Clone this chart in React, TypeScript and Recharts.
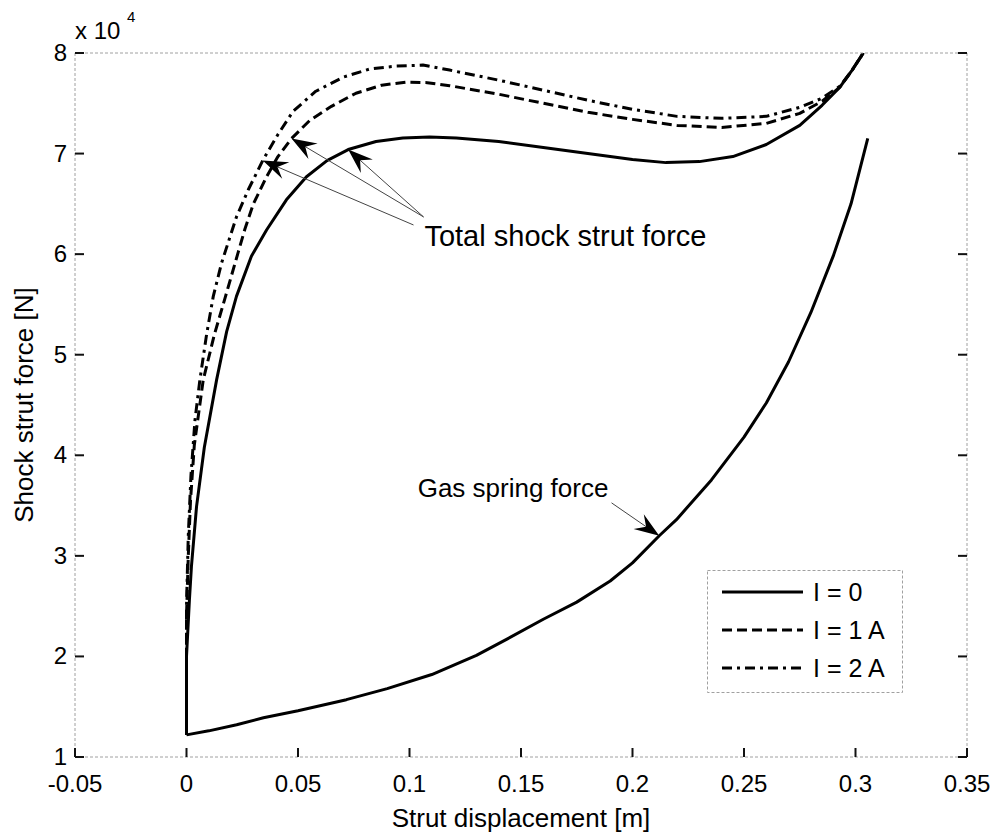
import React from 'react';
import { LineChart, Line, XAxis, YAxis, ReferenceLine, ReferenceDot, Legend } from 'recharts';

// Total shock strut force, I = 0 (displacement [m], force [N])
const dispI0 = [0, 0, 0.0013, 0.0022, 0.0045, 0.008, 0.0135, 0.018, 0.0224, 0.0291, 0.0359, 0.0448, 0.0538, 0.063, 0.0725, 0.085, 0.097, 0.109, 0.121, 0.14, 0.16, 0.18, 0.2, 0.215, 0.23, 0.245, 0.26, 0.275, 0.285, 0.293, 0.2985, 0.3035];
const forceI0 = [12200, 20000, 25600, 28900, 34900, 40800, 47500, 52300, 55800, 59800, 62400, 65400, 67700, 69300, 70400, 71200, 71550, 71650, 71550, 71200, 70600, 70000, 69400, 69100, 69200, 69700, 70900, 72800, 74800, 76600, 78300, 80000];

// Total shock strut force, I = 1 A
const dispI1 = [0, 0, 0.0008, 0.0018, 0.0035, 0.0075, 0.0125, 0.0175, 0.0232, 0.0262, 0.03, 0.0359, 0.041, 0.0471, 0.0553, 0.065, 0.076, 0.0875, 0.0987, 0.108, 0.118, 0.14, 0.16, 0.18, 0.2, 0.22, 0.24, 0.26, 0.275, 0.285, 0.293, 0.2985, 0.3035];
const forceI1 = [12200, 24000, 30000, 35500, 41000, 47500, 52000, 55800, 60200, 62500, 65000, 67700, 69700, 71500, 73300, 74700, 76000, 76800, 77100, 77050, 76750, 75900, 75000, 74100, 73400, 72800, 72600, 73000, 74000, 75200, 76600, 78300, 80000];

// Total shock strut force, I = 2 A
const dispI2 = [0, 0, 0.0008, 0.002, 0.0038, 0.006, 0.009, 0.012, 0.0157, 0.0224, 0.0277, 0.0344, 0.041, 0.0478, 0.058, 0.0703, 0.082, 0.094, 0.106, 0.118, 0.14, 0.16, 0.18, 0.2, 0.22, 0.24, 0.26, 0.275, 0.285, 0.293, 0.2985, 0.3035];
const forceI2 = [12200, 25000, 32000, 38000, 43500, 47500, 52000, 55800, 59100, 63700, 66400, 69400, 71900, 74200, 76200, 77600, 78400, 78700, 78800, 78300, 77300, 76300, 75300, 74400, 73700, 73500, 73700, 74600, 75500, 76700, 78300, 80000];

// Gas spring force
const dispGas = [0, 0.01, 0.0225, 0.0345, 0.05, 0.0717, 0.09, 0.11, 0.13, 0.1435, 0.16, 0.175, 0.19, 0.2, 0.212, 0.2197, 0.2354, 0.25, 0.26, 0.27, 0.28, 0.29, 0.298, 0.3055];
const forceGas = [12200, 12600, 13200, 13900, 14600, 15700, 16800, 18200, 20100, 21700, 23700, 25400, 27500, 29300, 32000, 33600, 37550, 41800, 45200, 49300, 54200, 59800, 65000, 71500];

const xTicks = [-0.05, 0, 0.05, 0.1, 0.15, 0.2, 0.25, 0.3, 0.35];
const yTicks = [10000, 20000, 30000, 40000, 50000, 60000, 70000, 80000];

// annotation arrows: tail -> tip, in data units
const arrowTails = [[0.1018, 62900], [0.1063, 63700], [0.1063, 63700], [0.1906, 35270]];
const arrowTips = [[0.0342, 69300], [0.0471, 71500], [0.0725, 70400], [0.212, 32000]];
const noteTexts = ['Total shock strut force', 'Gas spring force'];
const notePos = [[0.1067, 60800], [0.1892, 35860]];

const toPoints = (xs: number[], ys: number[]) => xs.map((x, i) => ({ disp: x, force: ys[i] }));

const FONT = '"Liberation Sans", Arial, Helvetica, sans-serif';
const TICK_LEN = 9;
const BOX_STROKE = '#a0a0a0';
const DASH: Record<string, string | undefined> = {
  'I = 0': undefined,
  'I = 1 A': '10 5',
  'I = 2 A': '10 5 3 5',
};
const NOTE_SIZE = [29, 26];

const fmtX = (v: number) => String(Number(v.toFixed(2)));
const fmtY = (v: number) => String(v / 10000);

const BottomTick = (p: any) => (
  <g>
    <line x1={p.x} y1={p.y} x2={p.x} y2={p.y - TICK_LEN} stroke="#111" strokeWidth={2} />
    <text x={p.x} y={p.y + 35} textAnchor="middle" fontSize={24} fontFamily={FONT} fill="#000">
      {fmtX(p.payload.value)}
    </text>
  </g>
);

const TopTick = (p: any) => (
  <line x1={p.x} y1={p.y} x2={p.x} y2={p.y + TICK_LEN} stroke="#111" strokeWidth={2} />
);

const LeftTick = (p: any) => (
  <g>
    <line x1={p.x} y1={p.y} x2={p.x + TICK_LEN} y2={p.y} stroke="#111" strokeWidth={2} />
    <text x={p.x - 8} y={p.y + 8} textAnchor="end" fontSize={24} fontFamily={FONT} fill="#000">
      {fmtY(p.payload.value)}
    </text>
  </g>
);

const RightTick = (p: any) => (
  <line x1={p.x} y1={p.y} x2={p.x - TICK_LEN} y2={p.y} stroke="#111" strokeWidth={2} />
);

// filled arrow head with swept-back barbs, drawn at the segment's second point
const ArrowShape = (p: any) => {
  const { x1, y1, x2, y2 } = p;
  const dx = x2 - x1;
  const dy = y2 - y1;
  const len = Math.hypot(dx, dy) || 1;
  const ux = dx / len;
  const uy = dy / len;
  const px = -uy;
  const py = ux;
  const L = 25;
  const W = 9;
  const N = 16;
  const bx = x2 - ux * L;
  const by = y2 - uy * L;
  const nx = x2 - ux * N;
  const ny = y2 - uy * N;
  const pts = [
    [x2, y2],
    [bx + px * W, by + py * W],
    [nx, ny],
    [bx - px * W, by - py * W],
  ]
    .map((q) => q.join(','))
    .join(' ');
  return (
    <g>
      <line x1={x1} y1={y1} x2={nx} y2={ny} stroke="#444" strokeWidth={1} />
      <polygon points={pts} fill="#000" />
    </g>
  );
};

const yAxisLabel = () => (
  <g fontFamily={FONT} fill="#000">
    <text transform="translate(33,405) rotate(-90)" textAnchor="middle" fontSize={26}>
      Shock strut force [N]
    </text>
    <text x={75} y={39} fontSize={24}>x 10</text>
    <text x={127} y={22} fontSize={15}>4</text>
  </g>
);

const xAxisLabel = () => (
  <text x={521} y={827} textAnchor="middle" fontSize={26} fontFamily={FONT} fill="#000">
    Strut displacement [m]
  </text>
);

const LegendBox = ({ payload }: any) => {
  const items = (payload || []).filter((e: any) => e.type !== 'none');
  return (
    <svg width={196} height={123} style={{ display: 'block' }}>
      <rect x={0.5} y={0.5} width={195} height={122} fill="#fff" stroke={BOX_STROKE} strokeDasharray="3 2" />
      {items.map((e: any, i: number) => {
        const cy = 22 + i * 38;
        return (
          <g key={e.value}>
            <line x1={15} y1={cy} x2={96} y2={cy} stroke="#000" strokeWidth={3} strokeDasharray={DASH[e.value]} />
            <text x={106} y={cy + 9} fontSize={25} fontFamily={FONT} fill="#000">
              {e.value}
            </text>
          </g>
        );
      })}
    </svg>
  );
};

export default function App() {
  const series = [
    { name: 'I = 0', data: toPoints(dispI0, forceI0) },
    { name: 'I = 1 A', data: toPoints(dispI1, forceI1) },
    { name: 'I = 2 A', data: toPoints(dispI2, forceI2) },
  ];
  const gas = toPoints(dispGas, forceGas);

  return (
    <div style={{ position: 'absolute', left: 0, top: 0, width: 998, height: 833, background: '#fff' }}>
      <LineChart width={998} height={833} margin={{ top: 43, right: 21, bottom: 36, left: 15 }}>
        <XAxis
          xAxisId="x"
          dataKey="disp"
          type="number"
          domain={[-0.05, 0.35]}
          ticks={xTicks}
          allowDataOverflow
          height={40}
          tickSize={0}
          tickMargin={0}
          tickLine={false}
          tick={BottomTick}
          axisLine={{ stroke: BOX_STROKE, strokeDasharray: '3 2' }}
          label={xAxisLabel}
        />
        <XAxis
          xAxisId="xTop"
          orientation="top"
          type="number"
          domain={[-0.05, 0.35]}
          ticks={xTicks}
          allowDataOverflow
          height={10}
          tickSize={0}
          tickMargin={0}
          tickLine={false}
          tick={TopTick}
          axisLine={{ stroke: BOX_STROKE, strokeDasharray: '3 2' }}
        />
        <YAxis
          yAxisId="y"
          type="number"
          domain={[10000, 80000]}
          ticks={yTicks}
          allowDataOverflow
          width={60}
          tickSize={0}
          tickMargin={0}
          tickLine={false}
          tick={LeftTick}
          axisLine={{ stroke: BOX_STROKE, strokeDasharray: '3 2' }}
          label={yAxisLabel}
        />
        <YAxis
          yAxisId="yRight"
          orientation="right"
          type="number"
          domain={[10000, 80000]}
          ticks={yTicks}
          allowDataOverflow
          width={10}
          tickSize={0}
          tickMargin={0}
          tickLine={false}
          tick={RightTick}
          axisLine={{ stroke: BOX_STROKE, strokeDasharray: '3 2' }}
        />

        <Line
          xAxisId="x"
          yAxisId="y"
          data={gas}
          dataKey="force"
          name="Gas spring force"
          legendType="none"
          type="linear"
          stroke="#000"
          strokeWidth={3}
          strokeLinejoin="round"
          dot={false}
          activeDot={false}
          isAnimationActive={false}
        />
        {series.map((s) => (
          <Line
            key={s.name}
            xAxisId="x"
            yAxisId="y"
            data={s.data}
            dataKey="force"
            name={s.name}
            type="linear"
            stroke="#000"
            strokeWidth={3}
            strokeDasharray={DASH[s.name]}
            strokeLinejoin="round"
            dot={false}
            activeDot={false}
            isAnimationActive={false}
          />
        ))}

        {arrowTips.map((tip, i) => (
          <ReferenceLine
            key={`arrow-${i}`}
            xAxisId="x"
            yAxisId="y"
            segment={[
              { x: arrowTails[i][0], y: arrowTails[i][1] },
              { x: tip[0], y: tip[1] },
            ]}
            ifOverflow="visible"
            shape={ArrowShape}
          />
        ))}
        {noteTexts.map((t, i) => (
          <ReferenceDot
            key={t}
            xAxisId="x"
            yAxisId="y"
            x={notePos[i][0]}
            y={notePos[i][1]}
            r={0}
            ifOverflow="visible"
            shape={(p: any) => (
              <text
                x={p.cx}
                y={p.cy}
                textAnchor={i === 0 ? 'start' : 'end'}
                fontSize={NOTE_SIZE[i]}
                fontFamily={FONT}
                fill="#000"
              >
                {t}
              </text>
            )}
          />
        ))}

        <Legend
          layout="vertical"
          align="center"
          verticalAlign="middle"
          wrapperStyle={{ left: 707, top: 570, width: 196, height: 123 }}
          content={LegendBox}
        />
      </LineChart>
    </div>
  );
}
